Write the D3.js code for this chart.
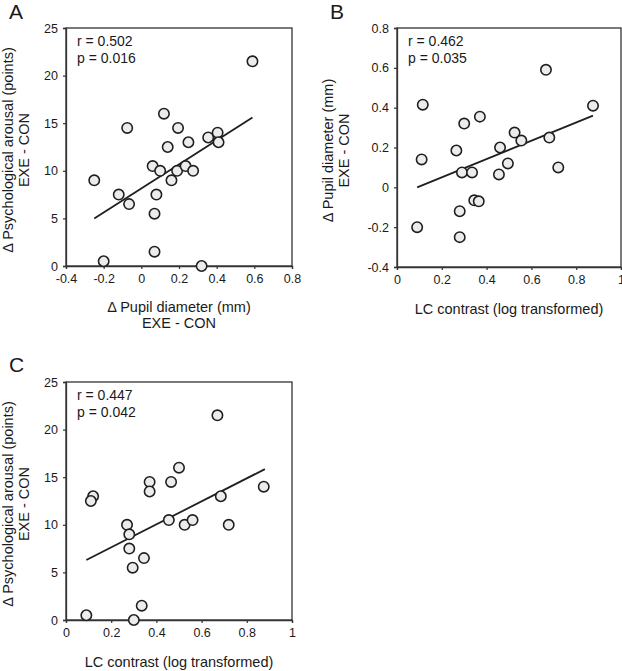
<!DOCTYPE html>
<html>
<head>
<meta charset="utf-8">
<script src="https://cdn.jsdelivr.net/npm/d3@7"></script>
<style>
  html, body { margin: 0; padding: 0; background: #fff; }
  svg { display: block; }
  text { font-family: "Liberation Sans", Arial, Helvetica, sans-serif; fill: #1a1a1a; }
</style>
</head>
<body>
<svg id="chart" width="622" height="671"></svg>
<script>
// ---- Panel A: pupil diameter change vs psychological arousal change ----
const pupilA   = [0.59, 0.12, -0.075, 0.195, 0.355, 0.405, 0.41, 0.25, 0.14, 0.06, 0.10, 0.19,
                  0.235, 0.275, 0.16, -0.25, -0.12, -0.065, 0.08, 0.07, 0.07, -0.20, 0.32];
const arousalA = [21.5, 16, 14.5, 14.5, 13.5, 14, 13, 13, 12.5, 10.5, 10, 10,
                  10.5, 10, 9, 9, 7.5, 6.5, 7.5, 5.5, 1.5, 0.5, 0];
const fitA     = [[-0.25, 5.0], [0.59, 15.6]];
const statsA   = ["r = 0.502", "p = 0.016"];

// ---- Panel B: LC contrast vs pupil diameter change ----
const lcB      = [0.665, 0.875, 0.115, 0.37, 0.30, 0.525, 0.555, 0.68, 0.265, 0.46, 0.11,
                  0.495, 0.72, 0.29, 0.335, 0.455, 0.345, 0.365, 0.28, 0.09, 0.28];
const pupilB   = [0.59, 0.41, 0.415, 0.355, 0.32, 0.275, 0.235, 0.25, 0.185, 0.20, 0.14,
                  0.12, 0.10, 0.075, 0.075, 0.065, -0.065, -0.07, -0.12, -0.20, -0.25];
const fitB     = [[0.09, 0.0], [0.875, 0.36]];
const statsB   = ["r = 0.462", "p = 0.035"];

// ---- Panel C: LC contrast vs psychological arousal change ----
const lcC      = [0.67, 0.50, 0.37, 0.465, 0.37, 0.12, 0.11, 0.685, 0.875, 0.455, 0.525,
                  0.56, 0.72, 0.27, 0.28, 0.28, 0.345, 0.295, 0.335, 0.09, 0.30];
const arousalC = [21.5, 16, 14.5, 14.5, 13.5, 13, 12.5, 13, 14, 10.5, 10,
                  10.5, 10, 10, 9, 7.5, 6.5, 5.5, 1.5, 0.5, 0];
const fitC     = [[0.09, 6.3], [0.88, 15.85]];
const statsC   = ["r = 0.447", "p = 0.042"];

// ---- Axis ticks and labels ----
const ticksPupil   = [-0.4, -0.2, 0, 0.2, 0.4, 0.6, 0.8];
const ticksArousal = [0, 5, 10, 15, 20, 25];
const ticksLC      = [0, 0.2, 0.4, 0.6, 0.8, 1];
const ticksPupilY  = [-0.4, -0.2, 0, 0.2, 0.4, 0.6, 0.8];
const labelArousal = ["Δ Psychological arousal (points)", "EXE - CON"];
const labelPupil   = ["Δ Pupil diameter (mm)", "EXE - CON"];
const labelLC      = ["LC contrast (log transformed)"];
const panelLetters = ["A", "B", "C"];

const svg = d3.select("#chart");
const ink = "#1f1f1f";

function fmt(v) {
  if (v === 0) return "0";
  let s = String(+v.toFixed(2));
  return s;
}

function panel(cfg) {
  const g = svg.append("g");
  const x = d3.scaleLinear().domain(cfg.xDomain).range([cfg.left, cfg.right]);
  const y = d3.scaleLinear().domain(cfg.yDomain).range([cfg.bottom, cfg.top]);

  // frame
  g.append("rect")
    .attr("x", cfg.left).attr("y", cfg.top)
    .attr("width", cfg.right - cfg.left).attr("height", cfg.bottom - cfg.top)
    .attr("fill", "none").attr("stroke", "#333").attr("stroke-width", 1.3);

  // axes
  const xAxis = d3.axisBottom(x).tickValues(cfg.xTicks).tickSize(3).tickPadding(5).tickFormat(fmt);
  const yAxis = d3.axisLeft(y).tickValues(cfg.yTicks).tickSize(3).tickPadding(5).tickFormat(fmt);
  const gx = g.append("g").attr("transform", `translate(0,${cfg.bottom})`).call(xAxis);
  const gy = g.append("g").attr("transform", `translate(${cfg.left},0)`).call(yAxis);
  [gx, gy].forEach(a => {
    a.select(".domain").attr("stroke", "#333").attr("stroke-width", 1.3);
    a.selectAll(".tick line").attr("stroke", "#333").attr("stroke-width", 1.2);
    a.selectAll(".tick text").attr("font-size", 12.5).attr("fill", ink)
      .style("font-family", '"Liberation Sans", Arial, sans-serif');
  });

  // regression line
  g.append("line")
    .attr("x1", x(cfg.fit[0][0])).attr("y1", y(cfg.fit[0][1]))
    .attr("x2", x(cfg.fit[1][0])).attr("y2", y(cfg.fit[1][1]))
    .attr("stroke", ink).attr("stroke-width", 1.8);

  // points
  g.selectAll("circle.pt").data(cfg.xs.map((v, i) => [v, cfg.ys[i]]))
    .join("circle").attr("class", "pt")
    .attr("cx", d => x(d[0])).attr("cy", d => y(d[1]))
    .attr("r", 5.2)
    .attr("fill", "#ececec").attr("stroke", ink).attr("stroke-width", 1.6);

  // stats text
  cfg.stats.forEach((s, i) => {
    g.append("text").attr("x", cfg.left + 11).attr("y", cfg.top + 18 + i * 16.5)
      .attr("font-size", 14).text(s);
  });

  // x label
  const xc = (cfg.left + cfg.right) / 2;
  cfg.xLabel.forEach((s, i) => {
    g.append("text").attr("x", xc).attr("y", cfg.bottom + cfg.xLabelOff + i * 16)
      .attr("text-anchor", "middle").attr("font-size", 14.5).text(s);
  });

  // y label
  const yc = (cfg.top + cfg.bottom) / 2 + 3;
  cfg.yLabel.forEach((s, i) => {
    const bx = cfg.left - cfg.yLabelOff - (cfg.yLabel.length - 1 - i) * 16.5;
    g.append("text").attr("transform", `translate(${bx},${yc}) rotate(-90)`)
      .attr("text-anchor", "middle").attr("font-size", 14.5).text(s);
  });

  // panel letter
  svg.append("text").attr("x", cfg.letterX).attr("y", cfg.letterY)
    .attr("font-size", 21).text(cfg.letter);
}

panel({
  left: 66, right: 292, top: 28, bottom: 266,
  xDomain: [-0.4, 0.8], yDomain: [0, 25],
  xTicks: ticksPupil, yTicks: ticksArousal,
  xs: pupilA, ys: arousalA, fit: fitA, stats: statsA,
  xLabel: labelPupil, xLabelOff: 46, yLabel: labelArousal, yLabelOff: 37,
  letter: panelLetters[0], letterX: 9, letterY: 19
});

panel({
  left: 397, right: 621, top: 28, bottom: 267,
  xDomain: [0, 1], yDomain: [-0.4, 0.8],
  xTicks: ticksLC, yTicks: ticksPupilY,
  xs: lcB, ys: pupilB, fit: fitB, stats: statsB,
  xLabel: labelLC, xLabelOff: 47, yLabel: labelPupil, yLabelOff: 48,
  letter: panelLetters[1], letterX: 330, letterY: 19
});

panel({
  left: 66, right: 292, top: 382, bottom: 620,
  xDomain: [0, 1], yDomain: [0, 25],
  xTicks: ticksLC, yTicks: ticksArousal,
  xs: lcC, ys: arousalC, fit: fitC, stats: statsC,
  xLabel: labelLC, xLabelOff: 47, yLabel: labelArousal, yLabelOff: 37,
  letter: panelLetters[2], letterX: 9, letterY: 372
});
</script>
</body>
</html>
